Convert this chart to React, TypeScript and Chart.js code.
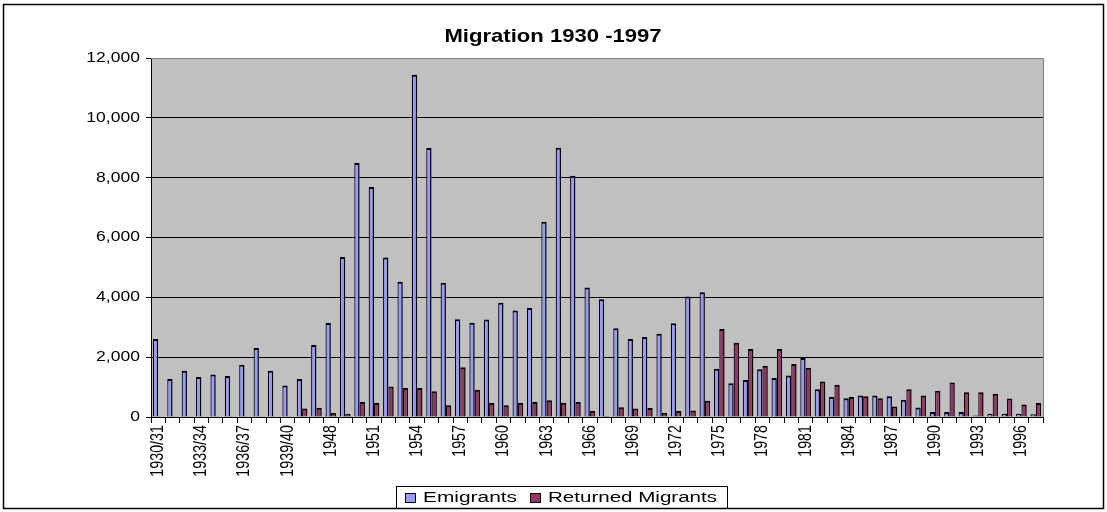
import React, { useEffect, useRef } from 'react';
import { Chart, registerables } from 'chart.js';

Chart.register(...registerables);

const chartTitle = 'Migration 1930 -1997';
const seriesNames = ['Emigrants', 'Returned Migrants'];
const seriesColors = ['#9999FF', '#993366'];

const categories = [
  '1930/31', '1931/32', '1932/33', '1933/34', '1934/35', '1935/36', '1936/37', '1937/38', '1938/39', '1939/40',
  '1946', '1947', '1948', '1949', '1950', '1951', '1952', '1953', '1954', '1955',
  '1956', '1957', '1958', '1959', '1960', '1961', '1962', '1963', '1964', '1965',
  '1966', '1967', '1968', '1969', '1970', '1971', '1972', '1973', '1974', '1975',
  '1976', '1977', '1978', '1979', '1980', '1981', '1982', '1983', '1984', '1985',
  '1986', '1987', '1988', '1989', '1990', '1991', '1992', '1993', '1994', '1995',
  '1996', '1997',
];

const emigrants = [
  2610, 1270, 1550, 1340, 1420, 1370, 1750, 2310, 1550, 1050,
  1270, 2410, 3140, 5350, 8490, 7690, 5330, 4520, 11440, 8990,
  4490, 3270, 3150, 3260, 3820, 3560, 3640, 6530, 9000, 8060,
  4330, 3940, 2970, 2610, 2670, 2780, 3130, 4030, 4170, 1610,
  1130, 1240, 1600, 1300, 1390, 1970, 930, 670, 630, 720,
  720, 690, 580, 320, 170, 170, 170, 50, 110, 110,
  110, 90,
];

const returnedMigrants = [
  0, 0, 0, 0, 0, 0, 0, 0, 0, 0,
  280, 310, 130, 100, 500, 470, 1020, 970, 970, 860,
  390, 1660, 910, 470, 390, 470, 500, 560, 480, 500,
  200, 30, 330, 280, 300, 130, 200, 220, 540, 2940,
  2480, 2270, 1710, 2270, 1770, 1650, 1190, 1080, 670, 690,
  630, 350, 930, 720, 880, 1150, 830, 830, 780, 620,
  420, 470,
];

const yTickValues = [0, 2000, 4000, 6000, 8000, 10000, 12000];
const xLabelStep = 3;

function drawText(
  ctx: CanvasRenderingContext2D,
  text: string,
  x: number,
  y: number,
  font: string,
  sx: number,
  sy: number,
  align: CanvasTextAlign,
  baseline: CanvasTextBaseline,
  rotate = 0,
) {
  ctx.save();
  ctx.translate(x, y);
  ctx.scale(sx, sy);
  if (rotate) ctx.rotate(rotate);
  ctx.font = font;
  ctx.textAlign = align;
  ctx.textBaseline = baseline;
  ctx.fillStyle = '#000';
  ctx.fillText(text, 0, 0);
  ctx.restore();
}

const decorPlugin = {
  id: 'decor',
  beforeDraw(chart: any) {
    const { ctx, chartArea } = chart;
    ctx.save();
    ctx.fillStyle = '#FFFFFF';
    ctx.fillRect(0, 0, chart.width, chart.height);
    ctx.fillStyle = '#C0C0C0';
    ctx.fillRect(chartArea.left, chartArea.top, chartArea.right - chartArea.left, chartArea.bottom - chartArea.top);
    ctx.restore();
  },
  afterDraw(chart: any) {
    const { ctx, chartArea } = chart;
    const xs = chart.scales.x;
    const ys = chart.scales.y;
    ctx.save();
    ctx.strokeStyle = '#808080';
    ctx.lineWidth = 1;
    ctx.beginPath();
    ctx.moveTo(chartArea.left, chartArea.top + 0.5);
    ctx.lineTo(chartArea.right + 0.5, chartArea.top + 0.5);
    ctx.lineTo(chartArea.right + 0.5, chartArea.bottom);
    ctx.stroke();

    const tickFont = '13px "Liberation Sans", Arial, sans-serif';
    yTickValues.forEach((v) => {
      const y = ys.getPixelForValue(v);
      drawText(ctx, v.toLocaleString('en-US'), 140, y, tickFont, 1.35, 1.08, 'right', 'middle');
    });

    categories.forEach((c, i) => {
      if (i % xLabelStep !== 0) return;
      const x = xs.getPixelForValue(i);
      drawText(ctx, c, x, 425, tickFont, 1.38, 1.1, 'right', 'middle', -Math.PI / 2);
    });

    drawText(ctx, chartTitle, 553, 37, 'bold 16px "Liberation Sans", Arial, sans-serif', 1.38, 1.12, 'center', 'middle');

    ctx.strokeStyle = '#000';
    ctx.lineWidth = 1;
    ctx.strokeRect(396.5, 486.5, 331, 22);
    const legFont = '14px "Liberation Sans", Arial, sans-serif';
    const items = [
      { sq: 405, tx: 423, w: 94 },
      { sq: 530, tx: 548, w: 169 },
    ];
    items.forEach((it, k) => {
      ctx.fillStyle = seriesColors[k];
      ctx.fillRect(it.sq, 493, 10, 9);
      ctx.strokeStyle = '#000';
      ctx.strokeRect(it.sq + 0.5, 493.5, 10, 9);
      ctx.font = legFont;
      const mw = ctx.measureText(seriesNames[k]).width;
      drawText(ctx, seriesNames[k], it.tx, 498, legFont, it.w / mw, 1.1, 'left', 'middle');
    });

    ctx.strokeStyle = '#000';
    ctx.lineWidth = 1.5;
    ctx.strokeRect(3.5, 4.5, 1100, 504);
    ctx.restore();
  },
};

export default function App() {
  const ref = useRef<HTMLCanvasElement | null>(null);
  useEffect(() => {
    if (!ref.current) return;
    const barBorder = { top: 2, left: 1.2, right: 1.5, bottom: 0 };
    const chart = new Chart(ref.current, {
      type: 'bar',
      data: {
        labels: categories,
        datasets: [
          {
            label: seriesNames[0],
            data: emigrants,
            backgroundColor: seriesColors[0],
            borderColor: '#000',
            borderWidth: barBorder,
            borderSkipped: false,
            categoryPercentage: 0.74,
            barPercentage: 1.0,
          },
          {
            label: seriesNames[1],
            data: returnedMigrants,
            backgroundColor: seriesColors[1],
            borderColor: '#000',
            borderWidth: barBorder,
            borderSkipped: false,
            categoryPercentage: 0.74,
            barPercentage: 1.0,
          },
        ],
      },
      options: {
        responsive: false,
        animation: false,
        devicePixelRatio: 1,
        layout: { padding: { left: 0, right: 64, top: 58, bottom: 0 } },
        plugins: {
          legend: { display: false },
          title: { display: false },
          tooltip: { enabled: false },
        },
        scales: {
          x: {
            type: 'category',
            offset: true,
            grid: {
              offset: true,
              drawOnChartArea: false,
              drawTicks: true,
              tickLength: 6,
              color: '#000',
            },
            border: { display: true, color: '#000', width: 1 },
            ticks: { display: false, autoSkip: false },
            afterFit: (s: any) => {
              s.height = 95;
            },
          },
          y: {
            min: 0,
            max: 12000,
            ticks: { display: false, stepSize: 2000 },
            grid: {
              color: (c: any) => (c.tick && c.tick.value === 12000 ? '#808080' : '#000'),
              tickColor: '#000',
              drawTicks: true,
              tickLength: 5,
            },
            border: { display: true, color: '#000', width: 1 },
            afterFit: (s: any) => {
              s.width = 151;
            },
          },
        },
      },
      plugins: [decorPlugin],
    } as any);
    return () => chart.destroy();
  }, []);
  return (
    <div style={{ position: 'absolute', left: 0, top: 0, width: 1107, height: 512 }}>
      <canvas ref={ref} width={1107} height={512} />
    </div>
  );
}
